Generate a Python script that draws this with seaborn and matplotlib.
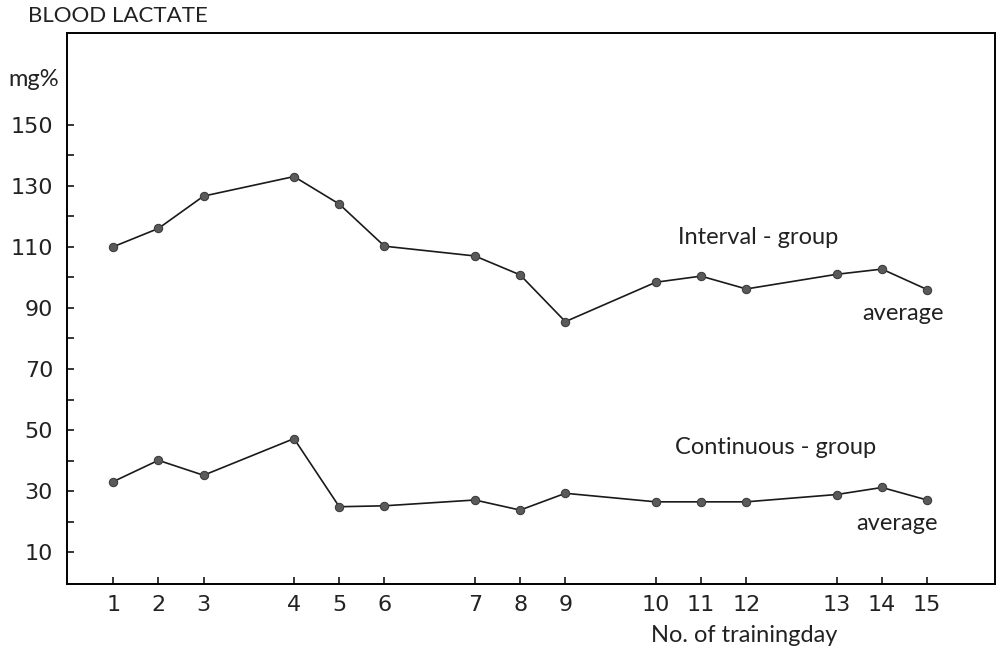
import pandas as pd
import matplotlib
matplotlib.use("Agg")
import matplotlib.pyplot as plt
import seaborn as sns

# training days and where they sit on the axis (weekend gaps)
days = list(range(1, 16))
day_pos = [1, 2, 3, 5, 6, 7, 9, 10, 11, 13, 14, 15, 17, 18, 19]

interval_lactate = [110, 116, 126.6, 133, 124, 110.2, 107, 100.8, 85.5, 98.4, 100.4, 96.2, 101, 102.7, 96]
continuous_lactate = [33.1, 40.1, 35.2, 47.2, 24.9, 25.2, 27.1, 23.8, 29.3, 26.5, 26.5, 26.5, 28.9, 31.2, 27.1]

y_labels = [10, 30, 50, 70, 90, 110, 130, 150]
y_minor = [20, 40, 60, 80, 100, 120, 140]

df = pd.DataFrame({
    "pos": day_pos * 2,
    "lactate": interval_lactate + continuous_lactate,
    "group": ["Interval"] * 15 + ["Continuous"] * 15,
})

sns.set_theme(style="ticks")
plt.rcParams["font.family"] = ["Lato", "DejaVu Sans"]

fig = plt.figure(figsize=(10.02, 6.47), dpi=100)
ax = fig.add_axes([67 / 1002, 1 - 584 / 647, (995 - 67) / 1002, (584 - 33) / 647])

sns.lineplot(data=df, x="pos", y="lactate", units="group", estimator=None,
             color="#1a1a1a", linewidth=1.2, marker="o", markersize=6,
             markerfacecolor="#5a5a5a", markeredgecolor="#3a3a3a", ax=ax)

ax.set_xlim(-0.02, 20.5)
ax.set_ylim(-0.4, 180)
ax.set_xticks(day_pos)
ax.set_xticklabels([str(d) for d in days])
ax.set_yticks(y_labels)
ax.set_yticks(y_minor, minor=True)
ax.tick_params(axis="both", which="both", direction="in", length=5, width=1.1,
               color="black", labelsize=16, top=False, right=False)
ax.tick_params(axis="y", which="major", pad=10)
ax.tick_params(axis="x", which="major", pad=8)
for lab in ax.get_xticklabels() + ax.get_yticklabels():
    lab.set_fontfamily(["DejaVu Sans"])
    lab.set_color("#222222")
ax.set_xlabel("")
ax.set_ylabel("")
for s in ax.spines.values():
    s.set_color("black")
    s.set_linewidth(1.4)
    s.set_visible(True)

ax.text(13.5, 113.2, "Interval - group", fontsize=17, va="center", ha="left", color="#222222")
ax.text(17.57, 88, "average", fontsize=17, va="center", ha="left", color="#222222")
ax.text(13.43, 44.3, "Continuous - group", fontsize=17, va="center", ha="left", color="#222222")
ax.text(17.44, 19.5, "average", fontsize=17, va="center", ha="left", color="#222222")

fig.text(28 / 1002, 1 - 16 / 647, "BLOOD LACTATE", fontsize=16, va="center", ha="left", color="#222222")
fig.text(8 / 1002, 1 - 80 / 647, "mg%", fontsize=17, va="center", ha="left", color="#222222")
fig.text(651 / 1002, 1 - 636 / 647, "No. of trainingday", fontsize=17, va="center", ha="left", color="#222222")

fig.savefig("out.png", dpi=100, facecolor="white")
